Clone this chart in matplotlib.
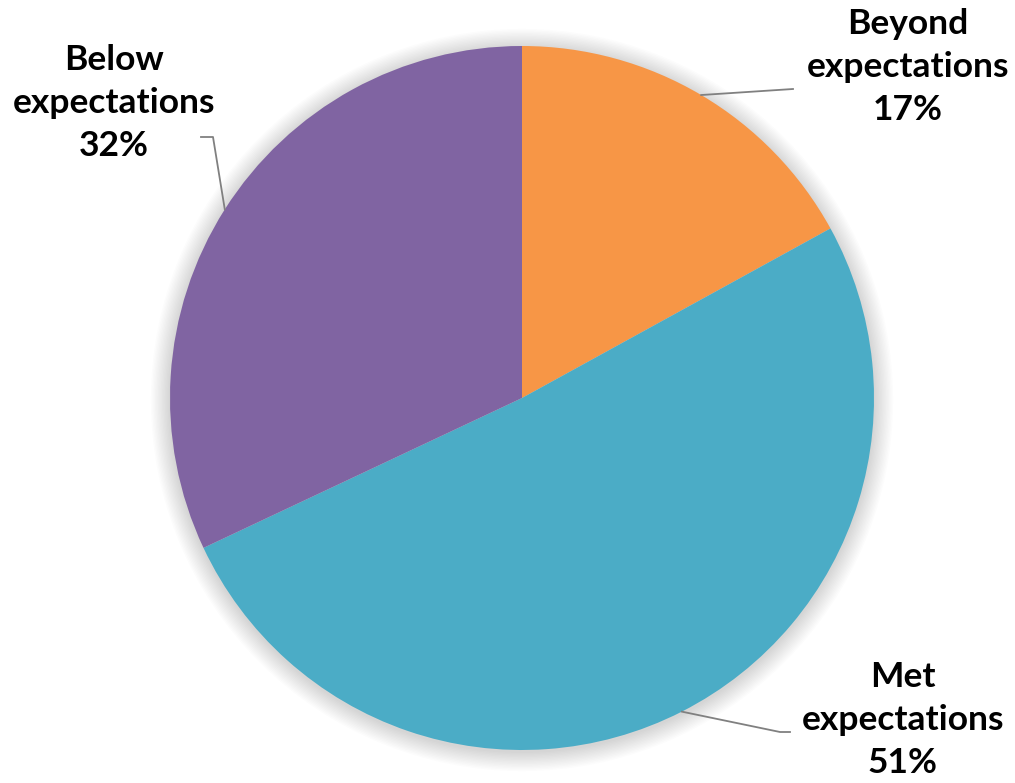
import numpy as np
import matplotlib
matplotlib.use("Agg")
import matplotlib.pyplot as plt
from matplotlib.patches import Circle

categories = ["Beyond\nexpectations", "Met\nexpectations", "Below\nexpectations"]
values = [17, 51, 32]
colors = ["#F79646", "#4BACC6", "#8064A2"]

W, H = 1015, 783
fig = plt.figure(figsize=(W / 100, H / 100), dpi=100)
ax = fig.add_axes([0, 0, 1, 1])
ax.set_xlim(0, W)
ax.set_ylim(0, H)
ax.set_aspect("equal")
ax.axis("off")

cx, cy, R = 522, H - 398, 352

# soft shadow
for i in range(14):
    ax.add_patch(Circle((cx, cy - 2), R + 1 + i * 1.4, color="black",
                        alpha=0.012, lw=0, zorder=0))

wedges, _ = ax.pie(values, colors=colors, startangle=90, counterclock=False,
                   center=(cx, cy), radius=R, frame=True,
                   wedgeprops=dict(linewidth=0))
ax.set_xlim(0, W)
ax.set_ylim(0, H)
ax.axis("off")

# label positions (pixel, from top) and leader line elbows
label_pos = [(908, 67), (903, 720), (114, 103)]
leader_ends = [[(793, 89)], [(780, 732), (790, 732)], [(213, 137), (201, 137)]]

fontkw = dict(fontfamily="Lato", fontweight="bold", fontsize=25.5,
              ha="center", va="center", linespacing=1.42)
for w, cat, v, (lx, ly), ends in zip(wedges, categories, values, label_pos, leader_ends):
    ang = np.deg2rad((w.theta1 + w.theta2) / 2)
    sx, sy = cx + R * np.cos(ang), cy + R * np.sin(ang)
    xs = [sx] + [e[0] for e in ends]
    ys = [sy] + [H - e[1] for e in ends]
    ax.plot(xs, ys, color="#808080", lw=1.3, zorder=3)
    ax.text(lx, H - ly, f"{cat}\n{v}%", **fontkw)

fig.savefig("out.png", dpi=100)
